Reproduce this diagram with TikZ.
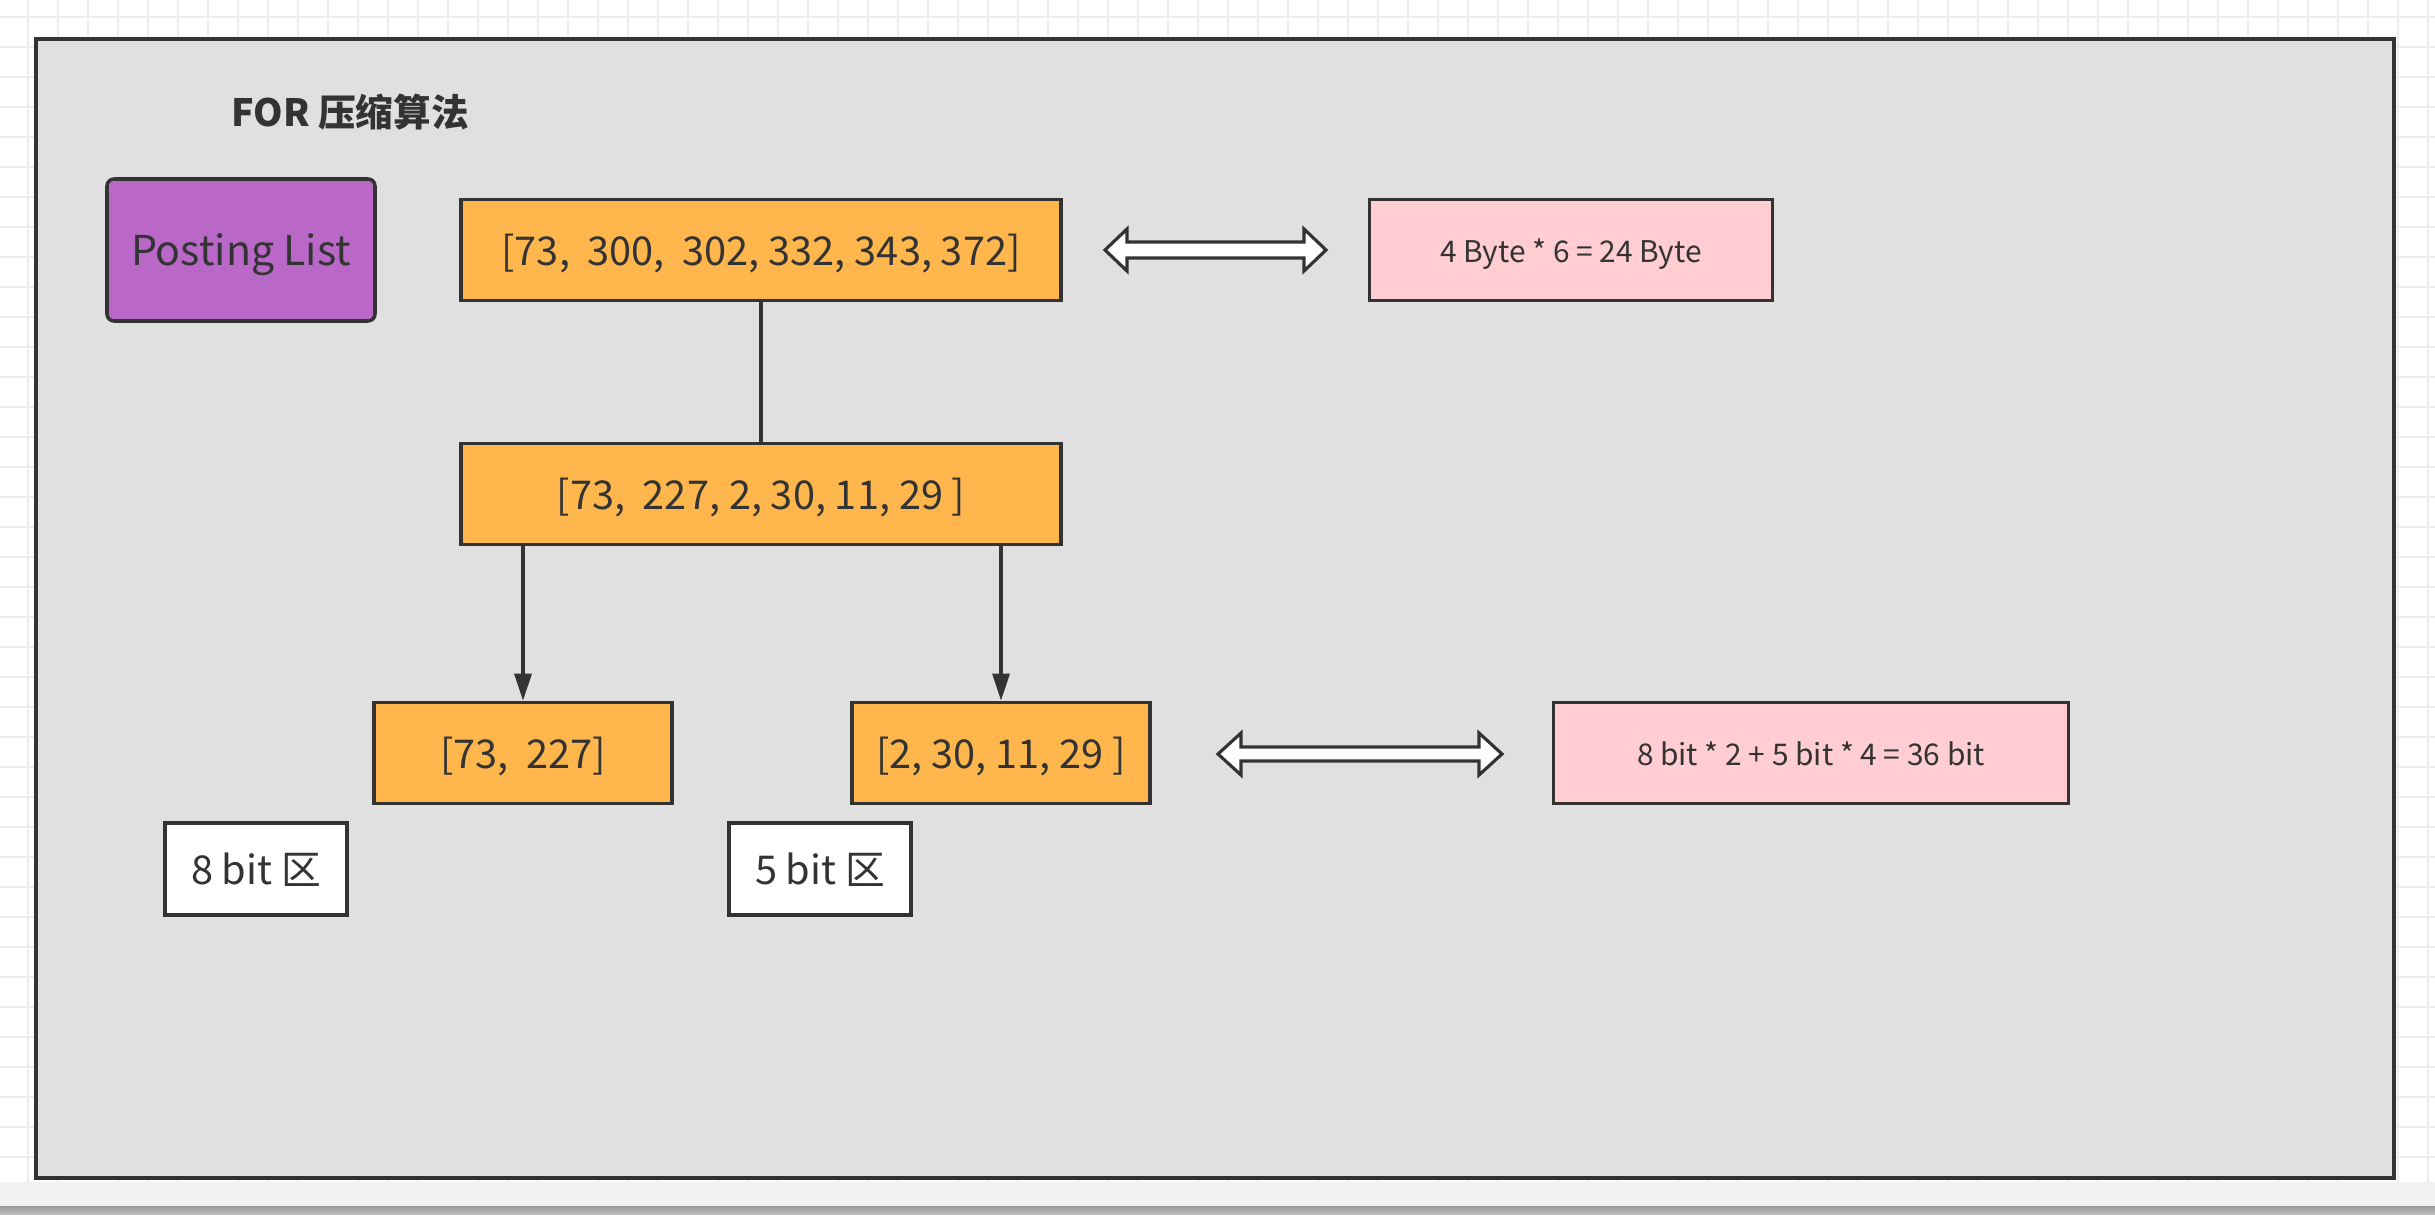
\documentclass[tikz,border=0pt]{standalone}
\usepackage{fontspec}
\setmainfont{Noto Sans CJK SC}
\usepackage{xcolor}
\usetikzlibrary{arrows.meta}
\definecolor{ink}{HTML}{333333}
\definecolor{panel}{HTML}{E0E0E0}
\definecolor{amber}{HTML}{FFB74D}
\definecolor{rose}{HTML}{FFCDD2}
\definecolor{orchid}{HTML}{BA68C8}
\definecolor{gridline}{HTML}{EDEDED}
\definecolor{strip}{HTML}{F1F1F1}

\begin{document}
\begin{tikzpicture}[x=0.1mm, y=-0.1mm,
    box/.style={draw=ink, line width=1pt, text=ink, minimum height=10.1mm, inner sep=0pt,
        text height=3.7mm, text depth=0.6mm, font=\fontsize{11.3}{14}\selectfont},
    numbox/.style={box, fill=amber, minimum width=#1},
    costbox/.style={box, fill=rose, minimum width=#1, text height=2.8mm, text depth=0.4mm,
        font=\fontsize{8.5}{10}\selectfont},
    bitbox/.style={box, fill=white, minimum width=18.2mm, minimum height=9.2mm},
    fatarrow/.style={draw=ink, line width=0.9pt, fill=white, line join=miter},
    link/.style={draw=ink, line width=1pt}
]
\useasboundingbox (0,0) rectangle (2435,1214);
% canvas grid
\fill[white] (0,0) rectangle (2435,1214);
\foreach \gx in {28,58,...,2435} \draw[gridline, line width=0.55pt] (\gx,0) -- (\gx,1214);
\foreach \gy in {17,47,...,1214} \draw[gridline, line width=0.55pt] (0,\gy) -- (2435,\gy);
\fill[strip] (0,1182) rectangle (2435,1206);
\shade[top color=black!40, bottom color=black!25] (0,1206) rectangle (2435,1214);
\draw[ink, line width=1.1pt, fill=panel] (36,39) rectangle (2394,1178);

\node[font=\bfseries\fontsize{10.7}{13}\selectfont, text=ink] (title) at (350,112) {FOR 压缩算法};
\node[box, fill=orchid, rounded corners=0.7mm, minimum width=26.8mm, minimum height=14.2mm,
    font=\fontsize{11.7}{14}\selectfont] (plist) at (241,250) {Posting List};

\node[numbox=60mm] (raw) at (761,250) {[73,\ \ 300,\ \ 302, 332, 343, 372]};
\node[costbox=40.3mm] (rawcost) at (1571,250) {4 Byte * 6 = 24 Byte};
\node[numbox=60mm] (delta) at (761,494) {[73,\ \ 227, 2, 30, 11, 29 ]};
\node[numbox=29.8mm] (big) at (523,753) {[73,\ \ 227]};
\node[numbox=29.8mm] (small) at (1001,753) {[2, 30, 11, 29 ]};
\node[costbox=51.5mm] (forcost) at (1811,753) {8 bit * 2 + 5 bit * 4 = 36 bit};
\node[bitbox] (big8) at (256,869) {8 bit 区};
\node[bitbox] (small5) at (820,869) {5 bit 区};

\draw[link] (raw) -- (delta);
\draw[link, -{Triangle[length=7.7pt,width=4.8pt]}] (delta.south -| big.north) -- (big);
\draw[link, -{Triangle[length=7.7pt,width=4.8pt]}] (delta.south -| small.north) -- (small);

% two-way size arrows
\draw[fatarrow] (1105,250) -- (1127,229) -- (1127,242) -- (1304,242) -- (1304,229) -- (1326,250)
    -- (1304,271) -- (1304,258) -- (1127,258) -- (1127,271) -- cycle;
\draw[fatarrow] (1218,754) -- (1241,733) -- (1241,747) -- (1479,747) -- (1479,733) -- (1502,754)
    -- (1479,775) -- (1479,761) -- (1241,761) -- (1241,775) -- cycle;
\end{tikzpicture}
\end{document}
